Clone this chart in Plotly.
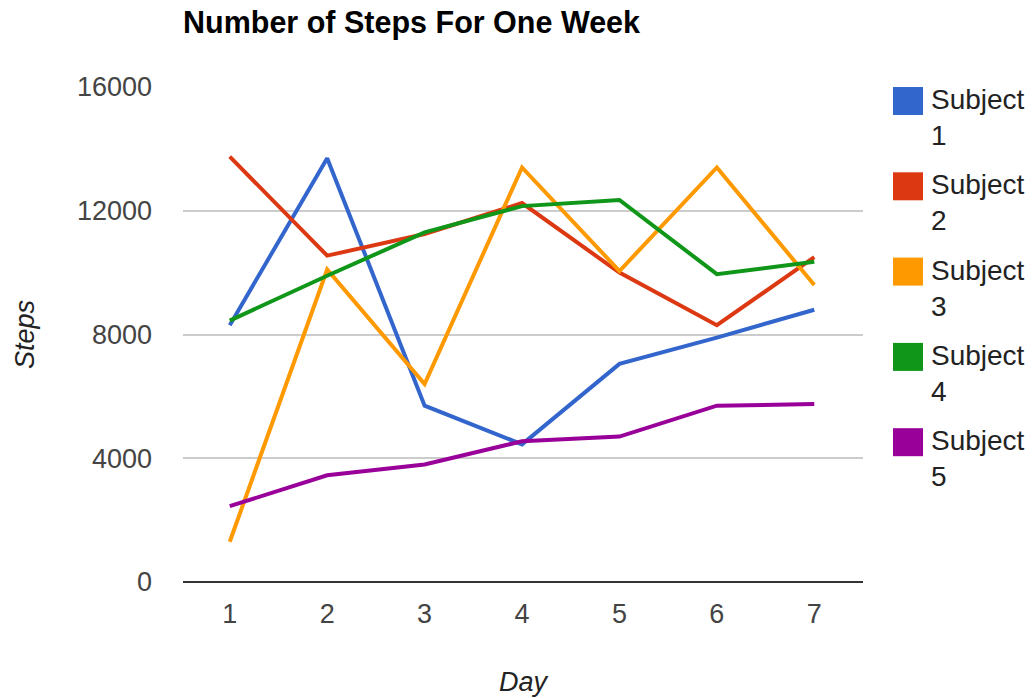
import plotly.graph_objects as go

days = [1, 2, 3, 4, 5, 6, 7]
subject_names = ["Subject 1", "Subject 2", "Subject 3", "Subject 4", "Subject 5"]
subject1 = [8300, 13700, 5700, 4450, 7050, 7900, 8800]
subject2 = [13750, 10550, 11250, 12250, 10000, 8300, 10500]
subject3 = [1300, 10100, 6400, 13400, 10050, 13400, 9600]
subject4 = [8450, 9900, 11300, 12150, 12350, 9950, 10350]
subject5 = [2450, 3450, 3800, 4550, 4700, 5700, 5750]
y_ticks = [0, 4000, 8000, 12000, 16000]

series = [subject1, subject2, subject3, subject4, subject5]
colors = ["#3366cc", "#dc3912", "#ff9900", "#109618", "#990099"]

FONT = "Liberation Sans, Arial, sans-serif"

fig = go.Figure()
for name, vals, col in zip(subject_names, series, colors):
    fig.add_trace(go.Scatter(x=days, y=vals, mode="lines", name=name,
                             line=dict(color=col, width=4), showlegend=False))

# custom legend (square swatches + wrapped labels)
shapes = []
annotations = []
for i, (name, col) in enumerate(zip(subject_names, colors)):
    cy = 101 + i * 85.3
    shapes.append(dict(type="rect", xref="paper", yref="paper",
                       x0=(893 - 183) / 680, x1=(923 - 183) / 680,
                       y0=(582 - (cy + 14)) / 495, y1=(582 - (cy - 14)) / 495,
                       fillcolor=col, line=dict(width=0)))
    word, num = name.split(" ")
    annotations.append(dict(xref="paper", yref="paper",
                            x=(929 - 183) / 680, y=(582 - (cy - 19)) / 495,
                            xanchor="left", yanchor="top", align="left",
                            text=word + "<br>" + num, showarrow=False,
                            font=dict(family=FONT, size=28, color="#222222")))

fig.update_layout(
    width=1032, height=698,
    margin=dict(l=183, r=169, t=87, b=116, autoexpand=False),
    paper_bgcolor="white", plot_bgcolor="white",
    title=dict(text="<b>Number of Steps For One Week</b>", x=183 / 1032, xanchor="left",
               y=1 - 22 / 698, yanchor="middle",
               font=dict(family=FONT, size=30.5, color="black")),
    shapes=shapes,
    annotations=annotations,
    showlegend=False,
)
fig.update_xaxes(range=[0.52, 7.5], tickvals=days, ticktext=[str(d) for d in days],
                 showgrid=False, zeroline=False, showline=False, ticks="",
                 ticklabelstandoff=13, automargin=False,
                 tickfont=dict(family=FONT, size=27, color="#444444"),
                 title=dict(text="<i>Day</i>", font=dict(family=FONT, size=27, color="#222222"),
                            standoff=44))
fig.update_yaxes(range=[0, 16000], tickvals=y_ticks, ticktext=[str(v) for v in y_ticks],
                 showgrid=True, gridcolor="#cccccc", gridwidth=2,
                 zeroline=True, zerolinecolor="#333333", zerolinewidth=2,
                 showline=False, ticks="", ticklabelstandoff=30, automargin=False,
                 tickfont=dict(family=FONT, size=27, color="#444444"),
                 title=dict(text="<i>Steps</i>", font=dict(family=FONT, size=27, color="#222222"),
                            standoff=34))

fig.write_html("out.html")
